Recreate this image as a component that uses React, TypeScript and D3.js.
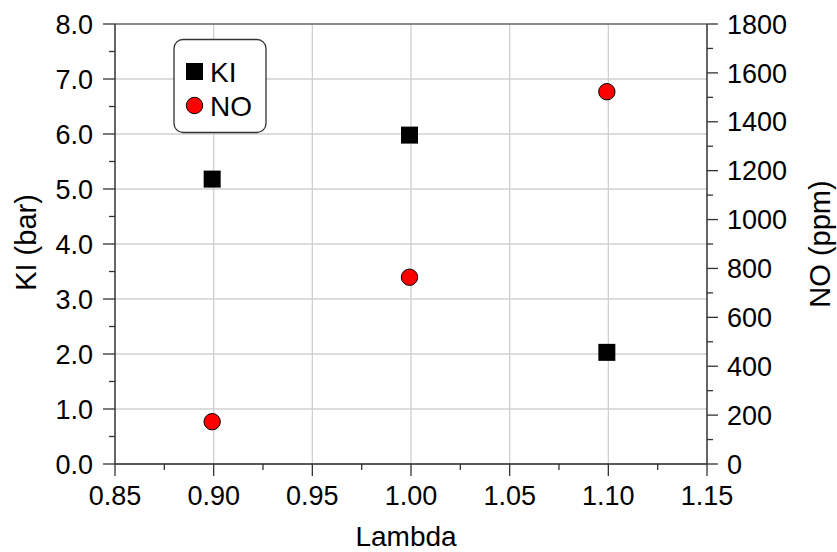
import React from "react";
import * as d3 from "d3";

const lambdas = [0.9, 1.0, 1.1];
const kiValues = [5.18, 5.98, 2.03];
const noValues = [173, 764, 1523];
const xTicks = [0.85, 0.9, 0.95, 1.0, 1.05, 1.1, 1.15];
const leftTicks = [0, 1, 2, 3, 4, 5, 6, 7, 8];
const rightTicks = [0, 200, 400, 600, 800, 1000, 1200, 1400, 1600, 1800];
const seriesNames = ["KI", "NO"];

const W = 837, H = 552;
const L = 115, R = 707, T = 24, B = 464;
const FONT = "Liberation Sans, Arial, sans-serif";

export default function App() {
  const x = d3.scaleLinear().domain([0.85, 1.15]).range([L, R]);
  const yL = d3.scaleLinear().domain([0, 8]).range([B, T]);
  const yR = d3.scaleLinear().domain([0, 1800]).range([B, T]);
  const xMinor = d3.range(0, 6).map((i) => 0.875 + i * 0.05);
  const lMinor = d3.range(0, 8).map((i) => 0.5 + i);
  const rMinor = d3.range(0, 9).map((i) => 100 + i * 200);
  const sq = 17;
  const fs = 27;
  return (
    <svg width={W} height={H} style={{ position: "absolute", left: 0, top: 0, background: "#fff" }}>
      <rect x={0} y={0} width={W} height={H} fill="#fff" />
      {/* grid */}
      {xTicks.slice(1, -1).map((t) => (
        <line key={"gx" + t} x1={x(t)} x2={x(t)} y1={T} y2={B} stroke="#d0d0d0" strokeWidth={1.3} />
      ))}
      {leftTicks.slice(1, -1).map((t) => (
        <line key={"gy" + t} x1={L} x2={R} y1={yL(t)} y2={yL(t)} stroke="#d0d0d0" strokeWidth={1.3} />
      ))}
      {/* top border */}
      <line x1={L} x2={R} y1={T} y2={T} stroke="#666" strokeWidth={1.5} />
      {/* axes */}
      <line x1={L} x2={R} y1={B} y2={B} stroke="#222" strokeWidth={1.5} />
      <line x1={L} x2={L} y1={T} y2={B} stroke="#333" strokeWidth={1.5} />
      <line x1={R} x2={R} y1={T} y2={B} stroke="#333" strokeWidth={1.5} />
      {/* x ticks */}
      {xTicks.map((t) => (
        <g key={"xt" + t}>
          <line x1={x(t)} x2={x(t)} y1={B} y2={B + 12} stroke="#333" strokeWidth={1.3} />
          <text x={x(t)} y={505} textAnchor="middle" fontFamily={FONT} fontSize={fs} fill="#000">
            {t.toFixed(2)}
          </text>
        </g>
      ))}
      {xMinor.map((t) => (
        <line key={"xm" + t} x1={x(t)} x2={x(t)} y1={B} y2={B + 6} stroke="#333" strokeWidth={1.3} />
      ))}
      {/* left ticks */}
      {leftTicks.map((t) => (
        <g key={"lt" + t}>
          <line x1={L - 12} x2={L} y1={yL(t)} y2={yL(t)} stroke="#333" strokeWidth={1.3} />
          <text x={93} y={yL(t)} dy="0.36em" textAnchor="end" fontFamily={FONT} fontSize={fs} fill="#000">
            {t.toFixed(1)}
          </text>
        </g>
      ))}
      {lMinor.map((t) => (
        <line key={"lm" + t} x1={L - 6} x2={L} y1={yL(t)} y2={yL(t)} stroke="#333" strokeWidth={1.3} />
      ))}
      {/* right ticks */}
      {rightTicks.map((t) => (
        <g key={"rt" + t}>
          <line x1={R} x2={R + 11} y1={yR(t)} y2={yR(t)} stroke="#333" strokeWidth={1.3} />
          <text x={727} y={yR(t)} dy="0.36em" textAnchor="start" fontFamily={FONT} fontSize={fs} fill="#000">
            {t}
          </text>
        </g>
      ))}
      {rMinor.map((t) => (
        <line key={"rm" + t} x1={R} x2={R + 6} y1={yR(t)} y2={yR(t)} stroke="#333" strokeWidth={1.3} />
      ))}
      {/* axis titles */}
      <text x={406} y={546} textAnchor="middle" fontFamily={FONT} fontSize={28} fill="#000">Lambda</text>
      <text transform={`translate(35.5,242.5) rotate(-90)`} textAnchor="middle" fontFamily={FONT} fontSize={29} fill="#000">KI (bar)</text>
      <text transform={`translate(829.5,244) rotate(-90)`} textAnchor="middle" fontFamily={FONT} fontSize={29} fill="#000">NO (ppm)</text>
      {/* data */}
      {lambdas.map((l, i) => (
        <rect key={"ki" + i} x={x(l) - 1.5 - sq / 2} y={yL(kiValues[i]) - sq / 2} width={sq} height={sq} fill="#000" />
      ))}
      {lambdas.map((l, i) => (
        <circle key={"no" + i} cx={x(l) - 1.5} cy={yR(noValues[i])} r={8.2} fill="#ff0000" stroke="#000" strokeWidth={1} />
      ))}
      {/* legend */}
      <rect x={174} y={39.5} width={92} height={93} rx={9} ry={9} fill="#fff" stroke="#333" strokeWidth={1.3} />
      <rect x={194.5 - sq / 2} y={71.5 - sq / 2} width={sq} height={sq} fill="#000" />
      <circle cx={194.5} cy={105.5} r={8.2} fill="#ff0000" stroke="#000" strokeWidth={1} />
      <text x={210} y={71.5} dy="0.36em" fontFamily={FONT} fontSize={28} fill="#000">{seriesNames[0]}</text>
      <text x={210} y={105.5} dy="0.36em" fontFamily={FONT} fontSize={28} fill="#000">{seriesNames[1]}</text>
    </svg>
  );
}
